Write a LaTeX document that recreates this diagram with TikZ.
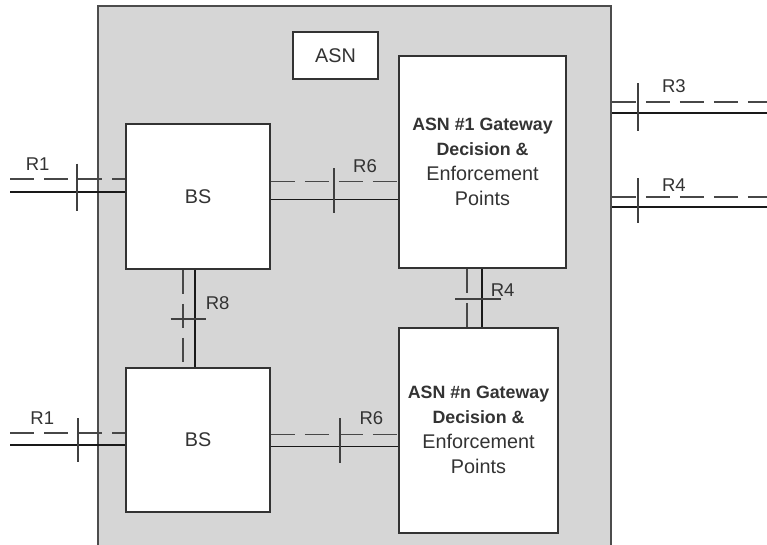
\documentclass[tikz,border=0pt]{standalone}
\usepackage{fontspec}
\setmainfont{Liberation Sans}
\usetikzlibrary{positioning, calc}

\definecolor{asngrey}{HTML}{D6D6D6}
\definecolor{edgegrey}{HTML}{333333}

\newcommand{\gwbf}[1]{{\fontsize{17.8}{25}\selectfont\bfseries #1}}

\begin{document}
\begin{tikzpicture}[
        x=1pt, y=-1pt,
        font=\fontsize{19.8}{25}\selectfont,
        box/.style={draw=edgegrey, line width=1.8pt, fill=white, align=center, text=black!80, inner sep=0pt},
        ctl/.style={draw=black!72, line width=1.6pt, dash pattern=on 24pt off 10pt},
        dat/.style={draw=black!90, line width=1.5pt},
        tck/.style={draw=black!75, line width=1.5pt},
        lbl/.style={font=\fontsize{18.5}{20}\selectfont, text=black!80, inner sep=0pt}
      ]
  \useasboundingbox (0,0) rectangle (767,544);
  \node[draw=black!70, line width=1.5pt, fill=asngrey, minimum width=513pt, minimum height=550pt, inner sep=0pt] (asn) at (354.5,281) {};
  \node[box, minimum width=85pt, minimum height=47pt] (asnlbl) at (335.5,55.5) {ASN};
  \node[box, minimum width=144pt, minimum height=145pt] (bs1) at (198,196.5) {BS};
  \node[box, minimum width=144pt, minimum height=144pt, below=97pt of bs1] (bs2) {BS};
  \node[box, minimum width=167pt, minimum height=212pt] (gw1) at (482.5,162)
    {\gwbf{ASN \#1 Gateway}\\\gwbf{Decision \&}\\Enforcement\\Points};
  \node[box, minimum width=159pt, minimum height=205pt, below right=58pt and 0pt of gw1.south west] (gwn)
    {\gwbf{ASN \#n Gateway}\\\gwbf{Decision \&}\\Enforcement\\Points};

  % free ends and tick points
  \coordinate (in1) at (10,185.5);
  \coordinate (inn) at (10,439);
  \coordinate (out3) at (767,107.5);
  \coordinate (out4) at (767,202);
  \coordinate (t1) at (77,187);
  \coordinate (tn1) at (78,440);
  \coordinate (t6) at (334,190.5);
  \coordinate (tn6) at (340,440.5);
  \coordinate (t3) at (638,107);
  \coordinate (t4) at (638,200.5);
  \coordinate (t8) at (189,319);
  \coordinate (t4m) at (474.5,299);

  % R1
  \draw[ctl] ([yshift=6.5pt]in1) -- ([yshift=6.5pt]in1 -| bs1.west) node[lbl, pos=0.24, above=8pt] {R1};
  \draw[dat] ([yshift=-6.5pt]in1) -- ([yshift=-6.5pt]in1 -| bs1.west);
  \draw[tck] (t1) +(0,-23.5) -- +(0,23.5);
  \draw[ctl] ([yshift=6pt]inn) -- ([yshift=6pt]inn -| bs2.west) node[lbl, pos=0.28, above=8pt] {R1};
  \draw[dat] ([yshift=-6pt]inn) -- ([yshift=-6pt]inn -| bs2.west);
  \draw[tck] (tn1) +(0,-22) -- +(0,22);

  % R6
  \draw[ctl] ([yshift=9pt]t6 -| bs1.east) -- ([yshift=9pt]t6 -| gw1.west) node[lbl, pos=0.74, above=8pt] {R6};
  \draw[dat] ([yshift=-9pt]t6 -| bs1.east) -- ([yshift=-9pt]t6 -| gw1.west);
  \draw[tck] (t6) +(0,-22.5) -- +(0,22.5);
  \draw[ctl] ([yshift=6pt]tn6 -| bs2.east) -- ([yshift=6pt]tn6 -| gwn.west) node[lbl, pos=0.79, above=9pt] {R6};
  \draw[dat] ([yshift=-6pt]tn6 -| bs2.east) -- ([yshift=-6pt]tn6 -| gwn.west);
  \draw[tck] (tn6) +(0,-22.5) -- +(0,22.5);

  % R3, R4 out of the ASN
  \draw[ctl] ([yshift=5.5pt]out3 -| asn.east) -- ([yshift=5.5pt]out3) node[lbl, pos=0.40, above=9pt] {R3};
  \draw[dat] ([yshift=-5.5pt]out3 -| asn.east) -- ([yshift=-5.5pt]out3);
  \draw[tck] (t3) +(0,-24) -- +(0,24);
  \draw[ctl] ([yshift=5pt]out4 -| asn.east) -- ([yshift=5pt]out4) node[lbl, pos=0.40, above=4.5pt] {R4};
  \draw[dat] ([yshift=-5pt]out4 -| asn.east) -- ([yshift=-5pt]out4);
  \draw[tck] (t4) +(0,-22.5) -- +(0,22.5);

  % R8, R4 inside
  \draw[ctl] ([xshift=-6pt]t8 |- bs1.south) -- ([xshift=-6pt]t8 |- bs2.north);
  \draw[dat] ([xshift=6pt]t8 |- bs1.south) -- ([xshift=6pt]t8 |- bs2.north) node[lbl, pos=0.34, right=10pt] {R8};
  \draw[tck] (t8) +(-18.5,0) -- +(16.5,0);
  \draw[ctl] ([xshift=-7.5pt]t4m |- gw1.south) -- ([xshift=-7.5pt]t4m |- gwn.north);
  \draw[dat] ([xshift=7.5pt]t4m |- gw1.south) -- ([xshift=7.5pt]t4m |- gwn.north) node[lbl, pos=0.37, right=8pt] {R4};
  \draw[tck] (t4m) +(-19.5,0) -- +(26.5,0);
\end{tikzpicture}
\end{document}
